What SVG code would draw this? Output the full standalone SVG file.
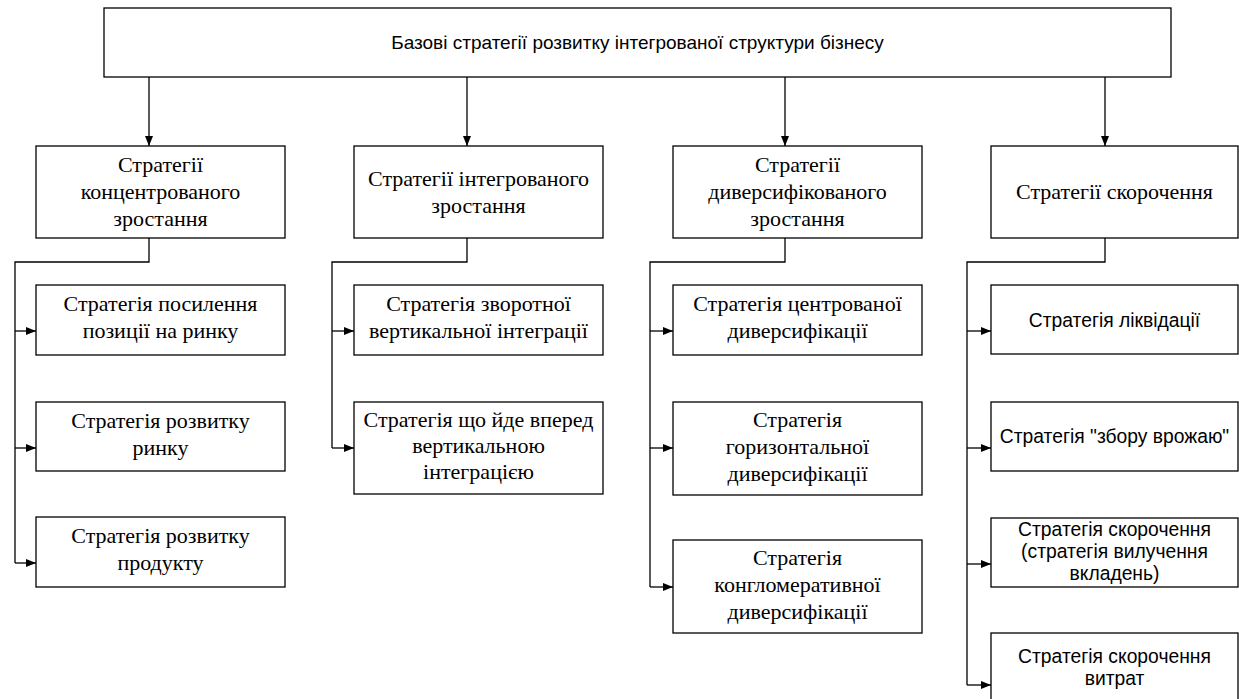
<svg xmlns="http://www.w3.org/2000/svg" width="1239" height="699" viewBox="0 0 1239 699">
<style>
rect{fill:#fff;stroke:#000;stroke-width:1.3}
.c{fill:none;stroke:#000;stroke-width:1.3}
.s{font-family:"Liberation Serif","Times New Roman",serif;font-size:22px;text-anchor:middle;fill:#000}
.a{font-family:"Liberation Sans",Arial,sans-serif;font-size:19.3px;text-anchor:middle;fill:#000}
.t{font-family:"Liberation Sans",Arial,sans-serif;font-size:19px;text-anchor:middle;fill:#000}
</style>
<defs>
<marker id="ar" markerWidth="10" markerHeight="8" refX="10" refY="4" orient="auto" markerUnits="userSpaceOnUse">
<path d="M0,0 L10,4 L0,8 Z" fill="#000"/>
</marker>
</defs>
<rect x="0" y="0" width="1239" height="699" style="fill:#fff;stroke:none"/>
<g id="connectors">
<line class="c" x1="149" y1="77" x2="149" y2="146" marker-end="url(#ar)"/>
<line class="c" x1="467" y1="77" x2="467" y2="146" marker-end="url(#ar)"/>
<line class="c" x1="785" y1="77" x2="785" y2="146" marker-end="url(#ar)"/>
<line class="c" x1="1105" y1="77" x2="1105" y2="146" marker-end="url(#ar)"/>
<polyline class="c" points="149,238 149,262 15,262 15,563"/>
<line class="c" x1="15" y1="331" x2="36" y2="331" marker-end="url(#ar)"/>
<line class="c" x1="15" y1="448" x2="36" y2="448" marker-end="url(#ar)"/>
<line class="c" x1="15" y1="563" x2="36" y2="563" marker-end="url(#ar)"/>
<polyline class="c" points="467,238 467,262 332,262 332,448"/>
<line class="c" x1="332" y1="331" x2="354" y2="331" marker-end="url(#ar)"/>
<line class="c" x1="332" y1="448" x2="354" y2="448" marker-end="url(#ar)"/>
<polyline class="c" points="785,238 785,262 650,262 650,587"/>
<line class="c" x1="650" y1="331" x2="673" y2="331" marker-end="url(#ar)"/>
<line class="c" x1="650" y1="448" x2="673" y2="448" marker-end="url(#ar)"/>
<line class="c" x1="650" y1="587" x2="673" y2="587" marker-end="url(#ar)"/>
<polyline class="c" points="1105,238 1105,262 967,262 967,685"/>
<line class="c" x1="967" y1="331" x2="991" y2="331" marker-end="url(#ar)"/>
<line class="c" x1="967" y1="448" x2="991" y2="448" marker-end="url(#ar)"/>
<line class="c" x1="967" y1="564" x2="991" y2="564" marker-end="url(#ar)"/>
<line class="c" x1="967" y1="685" x2="991" y2="685" marker-end="url(#ar)"/>
</g>
<g id="root"><rect x="104" y="8" width="1067" height="69"/><text class="t" x="637.5" y="49">Базові стратегії розвитку інтегрованої структури бізнесу</text></g>
<g id="n1"><rect x="36" y="146" width="249" height="92"/><text class="s" x="160.5" y="172">Стратегії</text><text class="s" x="160.5" y="199">концентрованого</text><text class="s" x="160.5" y="226">зростання</text></g>
<g id="n2"><rect x="354" y="146" width="249" height="92"/><text class="s" x="478.5" y="186">Стратегії інтегрованого</text><text class="s" x="478.5" y="213">зростання</text></g>
<g id="n3"><rect x="673" y="146" width="249" height="92"/><text class="s" x="797.5" y="172">Стратегії</text><text class="s" x="797.5" y="199">диверсифікованого</text><text class="s" x="797.5" y="226">зростання</text></g>
<g id="n4"><rect x="991" y="146" width="247" height="92"/><text class="s" x="1114.5" y="199">Стратегії скорочення</text></g>
<g id="n1a"><rect x="36" y="285" width="249" height="70"/><text class="s" x="160.5" y="311">Стратегія посилення</text><text class="s" x="160.5" y="338">позиції на ринку</text></g>
<g id="n1b"><rect x="36" y="402" width="249" height="69"/><text class="s" x="160.5" y="428">Стратегія розвитку</text><text class="s" x="160.5" y="455">ринку</text></g>
<g id="n1c"><rect x="36" y="517" width="249" height="70"/><text class="s" x="160.5" y="543">Стратегія розвитку</text><text class="s" x="160.5" y="570">продукту</text></g>
<g id="n2a"><rect x="354" y="285" width="249" height="70"/><text class="s" x="478.5" y="311">Стратегія зворотної</text><text class="s" x="478.5" y="338">вертикальної інтеграції</text></g>
<g id="n2b"><rect x="354" y="402" width="249" height="92"/><text class="s" x="478.5" y="427">Стратегія що йде вперед</text><text class="s" x="478.5" y="453">вертикальною</text><text class="s" x="478.5" y="479">інтеграцією</text></g>
<g id="n3a"><rect x="673" y="285" width="249" height="70"/><text class="s" x="797.5" y="311">Стратегія центрованої</text><text class="s" x="797.5" y="338">диверсифікації</text></g>
<g id="n3b"><rect x="673" y="402" width="249" height="93"/><text class="s" x="797.5" y="427">Стратегія</text><text class="s" x="797.5" y="454">горизонтальної</text><text class="s" x="797.5" y="481">диверсифікації</text></g>
<g id="n3c"><rect x="673" y="540" width="249" height="93"/><text class="s" x="797.5" y="565">Стратегія</text><text class="s" x="797.5" y="592">конгломеративної</text><text class="s" x="797.5" y="619">диверсифікації</text></g>
<g id="n4a"><rect x="991" y="285" width="247" height="69"/><text class="a" x="1114.5" y="327">Стратегія ліквідації</text></g>
<g id="n4b"><rect x="991" y="402" width="247" height="69"/><text class="a" x="1114.5" y="443">Стратегія "збору врожаю"</text></g>
<g id="n4c"><rect x="991" y="518" width="247" height="69"/><text class="a" x="1114.5" y="536">Стратегія скорочення</text><text class="a" x="1114.5" y="558">(стратегія вилучення</text><text class="a" x="1114.5" y="580">вкладень)</text></g>
<g id="n4d"><rect x="991" y="633" width="247" height="80"/><text class="a" x="1114.5" y="663">Стратегія скорочення</text><text class="a" x="1114.5" y="685">витрат</text></g>
</svg>
